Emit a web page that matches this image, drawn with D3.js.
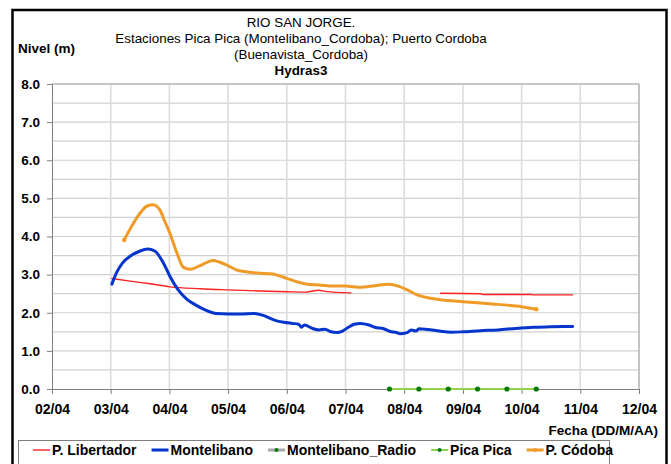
<!DOCTYPE html>
<html>
<head>
<meta charset="utf-8">
<script src="https://cdn.jsdelivr.net/npm/d3@7/dist/d3.min.js"></script>
<style>
  body { margin: 0; background: #fff; }
  svg text { font-family: "Liberation Sans", Arial, sans-serif; fill: #000; }
</style>
</head>
<body>
<svg id="chart" width="671" height="464"></svg>
<script>
// Days of April (fractional) and river levels in metres.
const xTickLabels = ["02/04", "03/04", "04/04", "05/04", "06/04", "07/04", "08/04", "09/04", "10/04", "11/04", "12/04"];
const yTickValues = [0, 1, 2, 3, 4, 5, 6, 7, 8];

// P. Libertador (null marks the gap in the record)
const libertadorDays   = [3.02, 3.33, 3.67, 4.01, 4.53, 5.00, 5.55, 6.01, 6.32, 6.44, 6.54, 6.66, 7.09, 7.8, 8.62, 9.30, 9.34, 10.16, 10.19, 10.87];
const libertadorLevels = [2.90, 2.83, 2.76, 2.68, 2.63, 2.60, 2.57, 2.55, 2.54, 2.57, 2.59, 2.56, 2.52, null, 2.51, 2.50, 2.48, 2.48, 2.47, 2.47];

// Montelibano
const montelibanoDays   = [3.02, 3.10, 3.20, 3.35, 3.50, 3.63, 3.75, 3.90, 4.01, 4.15, 4.30, 4.45, 4.60, 4.80, 5.00, 5.20, 5.45, 5.60, 5.80, 5.95, 6.10, 6.20, 6.25, 6.30, 6.45, 6.55, 6.65, 6.75, 6.85, 6.95, 7.05, 7.15, 7.25, 7.40, 7.50, 7.65, 7.78, 7.85, 7.93, 8.05, 8.12, 8.20, 8.25, 8.40, 8.60, 8.80, 9.00, 9.30, 9.60, 9.90, 10.20, 10.50, 10.87];
const montelibanoLevels = [2.75, 3.05, 3.30, 3.50, 3.62, 3.67, 3.62, 3.30, 2.95, 2.60, 2.35, 2.20, 2.08, 1.98, 1.97, 1.97, 1.98, 1.93, 1.80, 1.75, 1.72, 1.70, 1.62, 1.68, 1.58, 1.55, 1.57, 1.50, 1.48, 1.52, 1.62, 1.70, 1.72, 1.68, 1.62, 1.58, 1.50, 1.49, 1.45, 1.48, 1.55, 1.52, 1.58, 1.56, 1.52, 1.49, 1.50, 1.53, 1.55, 1.59, 1.62, 1.63, 1.64];

// Montelibano_Radio: no readings in this period
const radioDays   = [];
const radioLevels = [];

// Pica Pica
const picaDays   = [7.75, 8.25, 8.75, 9.25, 9.75, 10.25];
const picaLevels = [0.0, 0.0, 0.0, 0.0, 0.0, 0.0];

// P. Córdoba
const cordobaDays   = [3.23, 3.35, 3.50, 3.62, 3.72, 3.84, 3.92, 4.01, 4.13, 4.24, 4.35, 4.50, 4.65, 4.75, 4.85, 4.98, 5.15, 5.27, 5.50, 5.72, 5.85, 6.00, 6.20, 6.35, 6.55, 6.80, 7.00, 7.26, 7.50, 7.74, 7.90, 8.05, 8.22, 8.45, 8.74, 9.00, 9.25, 9.50, 9.76, 10.00, 10.25];
const cordobaLevels = [3.91, 4.25, 4.61, 4.80, 4.83, 4.69, 4.40, 4.08, 3.56, 3.19, 3.14, 3.22, 3.33, 3.37, 3.33, 3.25, 3.12, 3.08, 3.04, 3.02, 2.98, 2.90, 2.80, 2.75, 2.73, 2.70, 2.70, 2.67, 2.71, 2.75, 2.70, 2.60, 2.47, 2.38, 2.32, 2.29, 2.26, 2.23, 2.20, 2.16, 2.09];

const titleLines = ["RIO SAN JORGE.", "Estaciones Pica Pica (Montelibano_Cordoba); Puerto Cordoba", "(Buenavista_Cordoba)"];
const subtitle = "Hydras3";

const zip = (xs, ys) => xs.map((d, i) => ({ day: d, level: ys[i] }));

const series = [
  { name: "P. Libertador",     data: zip(libertadorDays, libertadorLevels),   color: "#ff2020", width: 1.4, marker: null },
  { name: "Montelibano",       data: zip(montelibanoDays, montelibanoLevels), color: "#0535cc", width: 3,   marker: null },
  { name: "Montelibano_Radio", data: zip(radioDays, radioLevels),             color: "#a6a6a6", width: 3,   marker: "#0a7a0a" },
  { name: "Pica Pica",         data: zip(picaDays, picaLevels),               color: "#8fd44a", width: 2,   marker: "#0a7a0a" },
  { name: "P. Códoba",         data: zip(cordobaDays, cordobaLevels),         color: "#f09a28", width: 3,   marker: "#f09a28" }
];

const svg = d3.select("#chart");
const plot = { left: 52, right: 639, top: 84, bottom: 389 };

const x = d3.scaleLinear().domain([2, 12]).range([plot.left, plot.right]);
const y = d3.scaleLinear().domain([0, 8]).range([plot.bottom, plot.top]);

// Outer frame
svg.append("rect")
  .attr("x", 12.5).attr("y", 10).attr("width", 654).attr("height", 470)
  .attr("fill", "none").attr("stroke", "#000").attr("stroke-width", 2.5);

// Gridlines
const grid = svg.append("g");
grid.selectAll(".hg").data(d3.range(0.5, 8.01, 0.5)).join("line")
  .attr("x1", plot.left).attr("x2", plot.right)
  .attr("y1", d => y(d)).attr("y2", d => y(d))
  .attr("stroke", "#d0d0d0").attr("stroke-width", 1.2);
grid.selectAll(".vg").data(d3.range(3, 12.01, 1)).join("line")
  .attr("x1", d => x(d)).attr("x2", d => x(d))
  .attr("y1", plot.top).attr("y2", plot.bottom)
  .attr("stroke", "#dcdcdc").attr("stroke-width", 1.6);
// plot area top/right border
svg.append("path")
  .attr("d", `M${plot.left},${plot.top}H${plot.right}V${plot.bottom}`)
  .attr("fill", "none").attr("stroke", "#a6a6a6").attr("stroke-width", 1);

// Axes
const yAxis = d3.axisLeft(y).tickValues(yTickValues).tickFormat(d3.format(".1f")).tickSize(5).tickPadding(7);
const gy = svg.append("g").attr("transform", `translate(${plot.left},0)`).call(yAxis);
const xAxis = d3.axisBottom(x).tickValues(d3.range(2, 12.01, 1)).tickFormat((d, i) => xTickLabels[i]).tickSize(5).tickPadding(10);
const gx = svg.append("g").attr("transform", `translate(0,${plot.bottom})`).call(xAxis);
[gx, gy].forEach(g => {
  g.select(".domain").attr("stroke", "#7f7f7f");
  g.selectAll(".tick line").attr("stroke", "#7f7f7f");
  g.selectAll("text").attr("font-size", 13.5).attr("font-weight", "bold")
    .attr("font-family", "'Liberation Sans', Arial, sans-serif").attr("fill", "#000");
});
gx.selectAll("text").attr("font-size", 14);

// Series lines
const line = d3.line()
  .defined(d => d.level !== null)
  .x(d => x(d.day)).y(d => y(d.level))
  .curve(d3.curveMonotoneX);

series.forEach(s => {
  if (!s.data.length) return;
  svg.append("path").datum(s.data)
    .attr("fill", "none").attr("stroke", s.color).attr("stroke-width", s.width)
    .attr("stroke-linejoin", "round").attr("stroke-linecap", "round")
    .attr("d", line);
});
// Pica Pica markers
const pica = series[3];
svg.selectAll(".pm").data(pica.data).join("circle")
  .attr("cx", d => x(d.day)).attr("cy", d => y(d.level)).attr("r", 2.6)
  .attr("fill", pica.marker);
// P. Córdoba end markers
const cord = series[4];
svg.selectAll(".cm").data([cord.data[0], cord.data[cord.data.length - 1]]).join("circle")
  .attr("cx", d => x(d.day)).attr("cy", d => y(d.level)).attr("r", 2.2)
  .attr("fill", cord.marker);

// Titles
const tg = svg.append("g").attr("text-anchor", "middle").attr("font-size", 13.4);
titleLines.forEach((t, i) => {
  tg.append("text").attr("x", 301).attr("y", 27 + i * 16).text(t);
});
tg.append("text").attr("x", 301).attr("y", 75).attr("font-weight", "bold").text(subtitle);

svg.append("text").attr("x", 18).attr("y", 53).attr("font-size", 13.5).attr("font-weight", "bold").text("Nivel (m)");
svg.append("text").attr("x", 658).attr("y", 435).attr("text-anchor", "end")
  .attr("font-size", 13.5).attr("font-weight", "bold").text("Fecha (DD/M/AA)");

// Legend
svg.append("rect").attr("x", 18.5).attr("y", 440.5).attr("width", 591).attr("height", 40)
  .attr("fill", "#fff").attr("stroke", "#7f7f7f").attr("stroke-width", 1);
let lx = 33;
const ly = 450;
series.forEach(s => {
  svg.append("line").attr("x1", lx).attr("x2", lx + 17).attr("y1", ly).attr("y2", ly)
    .attr("stroke", s.color).attr("stroke-width", s.width);
  if (s.marker) {
    svg.append("circle").attr("cx", lx + 8.5).attr("cy", ly).attr("r", 2).attr("fill", s.marker);
  }
  const t = svg.append("text").attr("x", lx + 19).attr("y", ly + 5)
    .attr("font-size", 14).attr("font-weight", "bold").text(s.name);
  lx += 19 + t.node().getComputedTextLength() + 15;
});
</script>
</body>
</html>
